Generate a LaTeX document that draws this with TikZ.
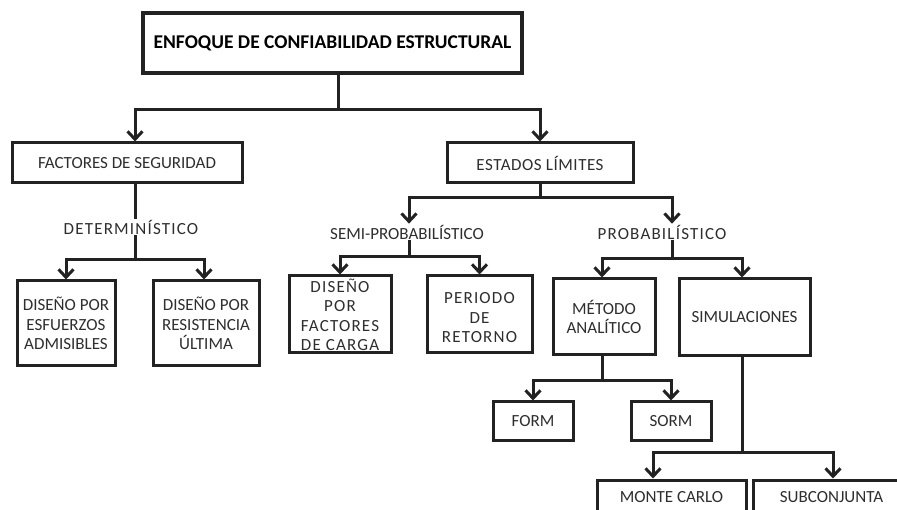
\documentclass[tikz,border=0pt]{standalone}
\usepackage{fontspec}
\setmainfont{Carlito}
\usetikzlibrary{arrows.meta}
\definecolor{ink}{HTML}{222222}
\definecolor{txtc}{HTML}{2E2E2E}
\newcommand{\spaced}{\addfontfeature{LetterSpace=7}}
\begin{document}
\begin{tikzpicture}[x=1pt,y=-1pt,
  box/.style={draw=ink,line width=3pt,inner sep=0pt,align=center,text=txtc,
    font=\fontsize{17}{19.5}\selectfont},
  lbl/.style={inner sep=1pt,align=center,text=txtc,font=\fontsize{17}{19.5}\selectfont},
  link/.style={draw=ink,line width=3pt},
  arr/.style={link,-{Straight Barb[length=8pt,width=15pt]}}]
\useasboundingbox (0,0) rectangle (897,510);
\clip (0,0) rectangle (897,510);
\fill[white] (0,0) rectangle (897,510);

% root
\node[box,line width=3.8pt,minimum width=379pt,minimum height=60pt,text=black,
  font=\fontsize{19.5}{22}\selectfont\bfseries] (top) at (332.5,43)
  {ENFOQUE DE CONFIABILIDAD ESTRUCTURAL};

% first level
\node[box,minimum width=230pt,minimum height=40pt] (fs) at (127,163) {FACTORES DE SEGURIDAD};
\node[box,minimum width=186pt,minimum height=40pt] (el) at (540,163)
  {\addfontfeature{LetterSpace=3}ESTADOS LÍMITES};

% branch labels
\node[lbl] (det) at (131,227) {\spaced DETERMINÍSTICO};
\node[lbl] (semi) at (407,232) {SEMI-PROBABILÍSTICO};
\node[lbl] (prob) at (662,232) {\spaced PROBABILÍSTICO};

% deterministic designs
\node[box,minimum width=98pt,minimum height=85pt] (esf) at (66,323.5) {DISEÑO POR\\ESFUERZOS\\ADMISIBLES};
\node[box,minimum width=106pt,minimum height=85pt] (res) at (206,323.5) {DISEÑO POR\\RESISTENCIA\\ÚLTIMA};

% semi-probabilistic methods
\node[box,minimum width=102pt,minimum height=77pt] (dfc) at (340,314.5) {};
\node[lbl,inner sep=0pt] (dfct) at (340,315) {\spaced DISEÑO\\\spaced POR\\\spaced FACTORES\\\spaced DE CARGA};
\node[box,minimum width=105pt,minimum height=77pt] (pr) at (479.5,314.5) {};
\node[lbl,inner sep=0pt] (prt) at (479.5,318) {\spaced PERIODO\\\spaced DE\\\spaced RETORNO};

% probabilistic methods
\node[box,minimum width=102pt,minimum height=76pt] (ma) at (604,317) {MÉTODO\\ANALÍTICO};
\node[box,minimum width=131pt,minimum height=77pt] (sim) at (744.5,317.5) {SIMULACIONES};
\node[box,minimum width=80pt,minimum height=38pt] (form) at (533,421) {FORM};
\node[box,minimum width=80pt,minimum height=38pt] (sorm) at (671,421) {SORM};
\node[box,minimum width=149pt,minimum height=34pt] (mc) at (671.5,497) {MONTE CARLO};
\node[box,minimum width=157pt,minimum height=34pt] (sub) at (831.5,497) {SUBCONJUNTA};

% junctions of the connectors
\coordinate (j1) at (338,110);
\coordinate (j2) at (135,260);
\coordinate (j3) at (540,198);
\coordinate (j4) at (409,257);
\coordinate (j5) at (672,259);
\coordinate (j6) at (602,381);
\coordinate (j7) at (742,452);

% connectors
\draw[link] (j1 |- top.south) -- (j1);
\draw[arr] (j1) -| ([xshift=8pt]fs.north);
\draw[arr] (j1) -| (el.north);

\draw[link] ([xshift=8pt]fs.south) -- ([xshift=8pt]fs.south |- det.north);
\draw[link] (j2 |- det.south) -- (j2);
\draw[arr] (j2) -| (esf.north);
\draw[arr] (j2) -| ([xshift=-2pt]res.north);

\draw[link] (el.south) -- (j3);
\draw[arr] (j3) -| ([xshift=2pt]semi.north);
\draw[arr] (j3) -| ([xshift=10pt]prob.north);

\draw[link] (j4 |- semi.south) -- (j4);
\draw[arr] (j4) -| (dfc.north);
\draw[arr] (j4) -| (pr.north);

\draw[link] (j5 |- prob.south) -- (j5);
\draw[arr] (j5) -| ([xshift=-2pt]ma.north);
\draw[arr] (j5) -| ([xshift=-2.5pt]sim.north);

\draw[link] (j6 |- ma.south) -- (j6);
\draw[arr] (j6) -| (form.north);
\draw[arr] (j6) -| (sorm.north);

\draw[link] (j7 |- sim.south) -- (j7);
\draw[arr] (j7) -| ([xshift=-18.5pt]mc.north);
\draw[arr] (j7) -| ([xshift=1.5pt]sub.north);
\end{tikzpicture}
\end{document}
